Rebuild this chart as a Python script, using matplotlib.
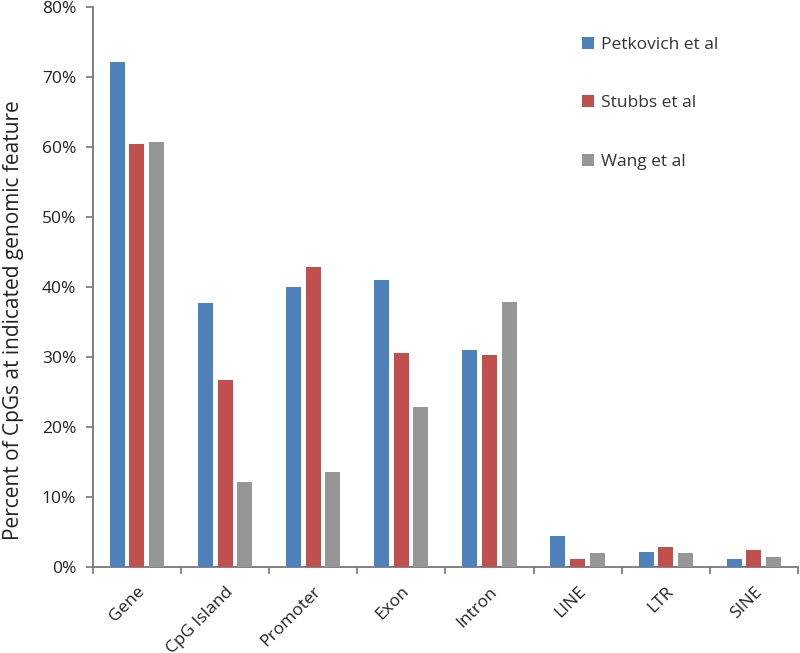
import matplotlib
matplotlib.use("Agg")
import matplotlib.pyplot as plt
import numpy as np
from matplotlib.ticker import FuncFormatter, MultipleLocator, FixedLocator

categories = ["Gene", "CpG Island", "Promoter", "Exon", "Intron", "LINE", "LTR", "SINE"]
petkovich = [72.1, 37.7, 40.0, 41.0, 31.0, 4.4, 2.2, 1.1]
stubbs = [60.4, 26.7, 42.8, 30.6, 30.3, 1.2, 2.8, 2.4]
wang = [60.7, 12.1, 13.5, 22.9, 37.8, 2.05, 2.05, 1.4]
series_names = ["Petkovich et al", "Stubbs et al", "Wang et al"]
colors = ["#4F81BD", "#C0504D", "#969696"]

plt.rcParams['font.family'] = ['Open Sans', 'DejaVu Sans']

fig = plt.figure(figsize=(8, 6.53), dpi=100)
ax = fig.add_axes([0.116, 0.1317, 0.8815, 0.8576])

x = np.arange(len(categories))
w = 0.17
step = 0.223
for i, (vals, name, c) in enumerate(zip([petkovich, stubbs, wang], series_names, colors)):
    ax.bar(x + (i - 1) * step, vals, width=w, color=c, label=name, zorder=3)

ax.set_xlim(-0.5, len(categories) - 0.5)
ax.set_ylim(0, 80)
ax.yaxis.set_major_locator(MultipleLocator(10))
ax.yaxis.set_major_formatter(FuncFormatter(lambda v, p: f"{int(v)}%"))

ax.set_xticks(x)
ax.set_xticklabels(categories, rotation=45, ha='right', rotation_mode='anchor', fontsize=12.5, color='#222222')
ax.tick_params(axis='x', which='major', length=0, pad=12)
ax.xaxis.set_minor_locator(FixedLocator(np.arange(-0.5, len(categories), 1.0)))
ax.tick_params(axis='x', which='minor', length=5, width=1.2, color='#777777')
ax.tick_params(axis='y', length=5, width=1.2, color='#777777', labelsize=12.5, labelcolor='#222222', pad=7)

for s in ['top', 'right']:
    ax.spines[s].set_visible(False)
for s in ['left', 'bottom']:
    ax.spines[s].set_color('#777777')
    ax.spines[s].set_linewidth(1.3)

fig.text(14 / 800, 1 - 320 / 653, "Percent of CpGs at indicated genomic feature",
         rotation=90, ha='center', va='center', fontsize=15, color='#222222')

leg = ax.legend(loc='upper left', bbox_to_anchor=(0.672, 0.975), frameon=False,
                fontsize=12.5, handlelength=0.7, handleheight=0.7, handletextpad=0.4,
                labelspacing=2.45)
for t in leg.get_texts():
    t.set_color('#333333')

fig.savefig("out.png", dpi=100)
